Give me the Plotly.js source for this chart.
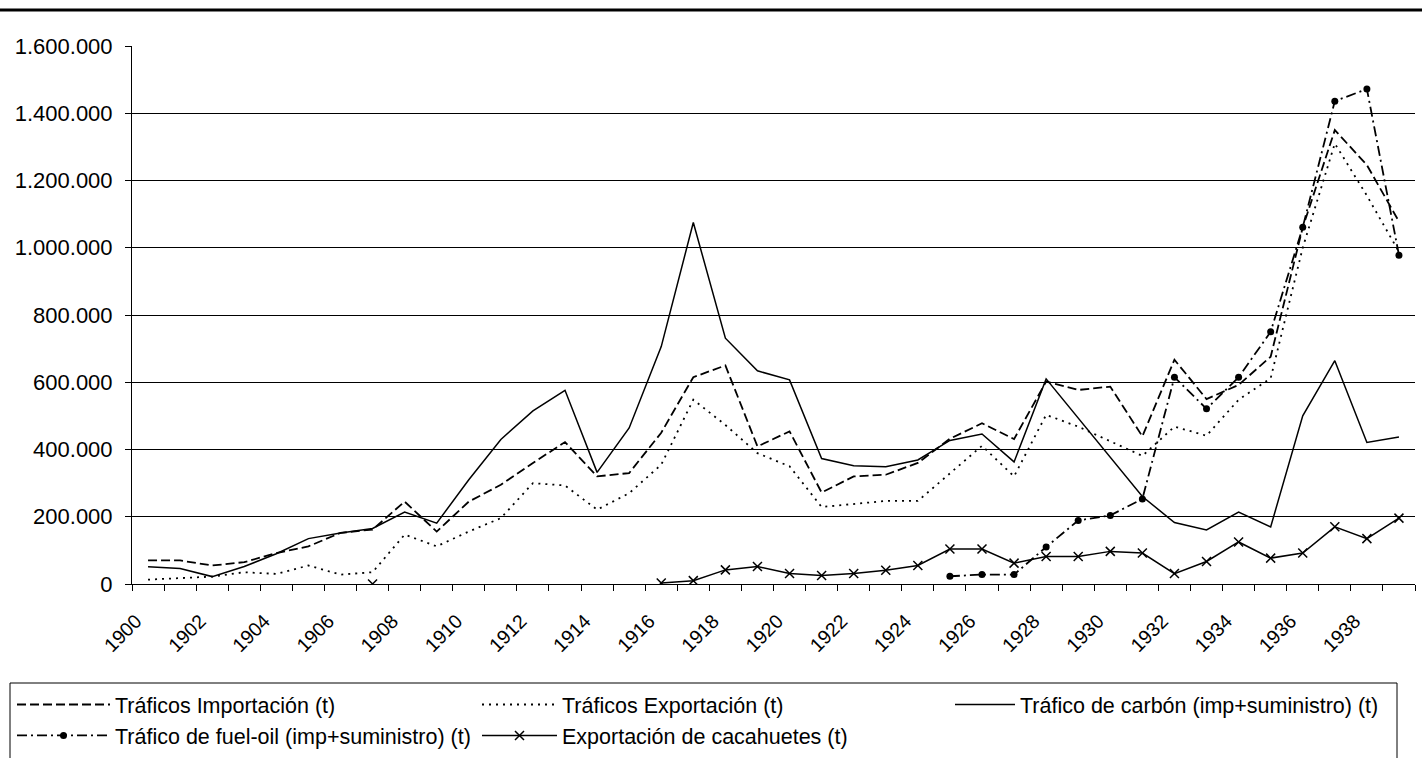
<!DOCTYPE html>
<html>
<head>
<meta charset="utf-8">
<script src="https://cdn.plot.ly/plotly-3.0.1.min.js"></script>
<style>html,body{margin:0;padding:0;background:#fff}#chart{width:1422px;height:758px}</style>
</head>
<body>
<div id="chart"></div>
<script>
const years = [1900,1901,1902,1903,1904,1905,1906,1907,1908,1909,1910,1911,1912,1913,1914,1915,1916,1917,1918,1919,1920,1921,1922,1923,1924,1925,1926,1927,1928,1929,1930,1931,1932,1933,1934,1935,1936,1937,1938,1939];

const importacion = [70000,70000,55000,65000,92000,112000,152000,162000,245000,156000,245000,295000,360000,422000,320000,330000,450000,615000,650000,409000,454000,272000,320000,325000,360000,432000,478000,431000,602000,577000,587000,439000,667000,550000,592000,676000,1060000,1350000,1246000,1078000];

const exportacion = [13000,18000,22000,35000,30000,55000,28000,35000,147000,112000,156000,196000,300000,293000,221000,270000,355000,548000,473000,389000,350000,229000,239000,247000,247000,330000,411000,320000,503000,468000,424000,381000,468000,441000,548000,612000,1000000,1310000,1155000,988000];

const carbon = [51000,46000,22000,52000,90000,135000,152000,165000,214000,181000,310000,430000,515000,576000,332000,464000,706000,1075000,731000,634000,607000,373000,352000,349000,369000,427000,446000,363000,610000,493000,377000,260000,183000,161000,214000,170000,500000,664000,421000,437000];

const fueloil = [null,null,null,null,null,null,null,null,null,null,null,null,null,null,null,null,null,null,null,null,null,null,null,null,null,23000,28000,28000,110000,189000,204000,253000,615000,521000,615000,750000,1061000,1436000,1472000,978000];

const cacahuetes = [null,null,null,null,null,null,null,0,null,null,null,null,null,null,null,null,3000,10000,42000,52000,31000,25000,31000,41000,55000,104000,104000,62000,82000,82000,97000,92000,31000,67000,125000,77000,92000,170000,135000,196000];

const seriesNames = ["Tráficos Importación (t)","Tráficos Exportación (t)","Tráfico de carbón (imp+suministro) (t)","Tráfico de fuel-oil (imp+suministro) (t)","Exportación de cacahuetes (t)"];

const FONT = "Liberation Sans, Arial, sans-serif";

const traces = [
  {x: years, y: importacion, name: seriesNames[0], mode: "lines", legend: "legend", legendgroup: "a",
   line: {color: "#000", width: 1.8, dash: "9px,4px"}},
  {x: years, y: fueloil, name: seriesNames[3], mode: "lines+markers", legend: "legend", legendgroup: "b",
   line: {color: "#000", width: 1.8, dash: "10px,4px,2px,4px"}, marker: {symbol: "circle", size: 7, color: "#000"}},
  {x: years, y: exportacion, name: seriesNames[1], mode: "lines", legend: "legend2", legendgroup: "c",
   line: {color: "#000", width: 1.8, dash: "2px,5px"}},
  {x: years, y: cacahuetes, name: seriesNames[4], mode: "lines+markers", legend: "legend2", legendgroup: "d",
   line: {color: "#000", width: 1.5}, marker: {symbol: "x-thin-open", size: 9, line: {color: "#000", width: 1.5}}},
  {x: years, y: carbon, name: seriesNames[2], mode: "lines", legend: "legend3", legendgroup: "e",
   line: {color: "#000", width: 1.5}}
];

function px2x(p){ return (p - 132) / 1283; }
function py2y(p){ return (584 - p) / 538; }

const legendBase = {
  orientation: "v", xanchor: "left", yanchor: "top", y: py2y(684),
  font: {family: FONT, size: 21.5, color: "#000"}, bgcolor: "rgba(0,0,0,0)", borderwidth: 0,
  tracegroupgap: 5, traceorder: "normal"
};

const layout = {
  width: 1422, height: 758,
  margin: {l: 132, r: 7, t: 46, b: 174, autoexpand: false},
  paper_bgcolor: "#fff", plot_bgcolor: "#fff",
  separators: ",.",
  showlegend: true,
  font: {family: FONT, color: "#000"},
  xaxis: {
    type: "linear", range: [1899.5, 1939.5], tick0: 1900, dtick: 2,
    tickangle: -45, tickfont: {family: FONT, size: 19.5, color: "#000"},
    ticks: "", showgrid: false, zeroline: false, showline: true, linecolor: "#000", linewidth: 1,
    ticklabelstandoff: 17, ticklabelshift: -12,
    minor: {tick0: 1899.5, dtick: 1, ticks: "outside", ticklen: 6, tickcolor: "#000", tickwidth: 1, showgrid: false}
  },
  yaxis: {
    range: [0, 1600000], tick0: 0, dtick: 200000, tickformat: ",d",
    tickfont: {family: FONT, size: 22, color: "#000"},
    ticks: "outside", ticklen: 6, tickcolor: "#000", tickwidth: 1,
    showgrid: true, gridcolor: "#000", gridwidth: 1, zeroline: false,
    showline: true, linecolor: "#000", linewidth: 1, ticklabelstandoff: 8
  },
  legend: Object.assign({}, legendBase, {x: px2x(12), itemwidth: 93}),
  legend2: Object.assign({}, legendBase, {x: px2x(477), itemwidth: 75}),
  legend3: Object.assign({}, legendBase, {x: px2x(950), itemwidth: 60}),
  shapes: [
    {type: "line", xref: "paper", yref: "paper", x0: px2x(0), x1: px2x(1422), y0: py2y(10), y1: py2y(10),
     line: {color: "#000", width: 3}},
    {type: "rect", xref: "paper", yref: "paper", x0: px2x(10), x1: px2x(1397), y0: py2y(683), y1: py2y(775),
     line: {color: "#000", width: 1}, fillcolor: "rgba(0,0,0,0)"}
  ]
};

Plotly.newPlot("chart", traces, layout, {displayModeBar: false, staticPlot: true});
</script>
</body>
</html>
